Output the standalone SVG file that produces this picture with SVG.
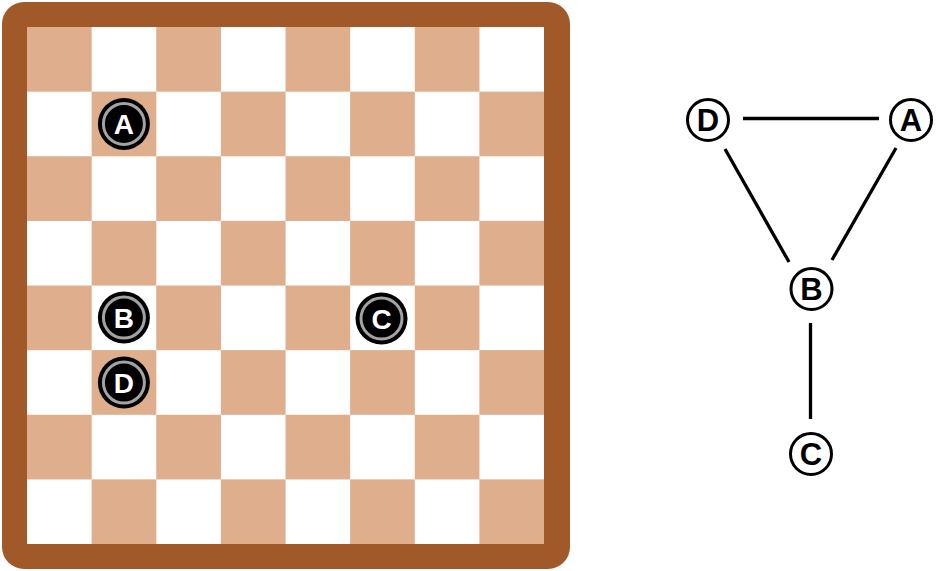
<svg xmlns="http://www.w3.org/2000/svg" width="950" height="571" viewBox="0 0 950 571">
<style>
.tan{fill:#DFAE8D}
.piece circle.o{fill:#000}
.piece circle.r{fill:none;stroke:#a3a3a3;stroke-width:3}
.piece text{font-family:"Liberation Sans",Arial,sans-serif;font-weight:bold;font-size:28px;fill:#fff;text-anchor:middle}
.gnode circle{fill:#fff;stroke:#000;stroke-width:3}
.gnode text{font-family:"Liberation Sans",Arial,sans-serif;font-weight:bold;font-size:31px;fill:#000;text-anchor:middle}
.edge{stroke:#000;stroke-width:3.3;stroke-linecap:butt}
</style>
<rect width="950" height="571" fill="#fff"/>
<g id="board">
<rect x="2" y="2" width="568" height="567" rx="22" ry="22" fill="#A1592A"/>
<rect x="27" y="27" width="517" height="517" fill="#fff"/>
<g class="tan">
<rect x="27" y="27" width="64.7" height="64.7"/>
<rect x="156.25" y="27" width="64.7" height="64.7"/>
<rect x="285.5" y="27" width="64.7" height="64.7"/>
<rect x="414.75" y="27" width="64.7" height="64.7"/>
<rect x="91.625" y="91.625" width="64.7" height="64.7"/>
<rect x="220.875" y="91.625" width="64.7" height="64.7"/>
<rect x="350.125" y="91.625" width="64.7" height="64.7"/>
<rect x="479.375" y="91.625" width="64.625" height="64.7"/>
<rect x="27" y="156.25" width="64.7" height="64.7"/>
<rect x="156.25" y="156.25" width="64.7" height="64.7"/>
<rect x="285.5" y="156.25" width="64.7" height="64.7"/>
<rect x="414.75" y="156.25" width="64.7" height="64.7"/>
<rect x="91.625" y="220.875" width="64.7" height="64.7"/>
<rect x="220.875" y="220.875" width="64.7" height="64.7"/>
<rect x="350.125" y="220.875" width="64.7" height="64.7"/>
<rect x="479.375" y="220.875" width="64.625" height="64.7"/>
<rect x="27" y="285.5" width="64.7" height="64.7"/>
<rect x="156.25" y="285.5" width="64.7" height="64.7"/>
<rect x="285.5" y="285.5" width="64.7" height="64.7"/>
<rect x="414.75" y="285.5" width="64.7" height="64.7"/>
<rect x="91.625" y="350.125" width="64.7" height="64.7"/>
<rect x="220.875" y="350.125" width="64.7" height="64.7"/>
<rect x="350.125" y="350.125" width="64.7" height="64.7"/>
<rect x="479.375" y="350.125" width="64.625" height="64.7"/>
<rect x="27" y="414.75" width="64.7" height="64.7"/>
<rect x="156.25" y="414.75" width="64.7" height="64.7"/>
<rect x="285.5" y="414.75" width="64.7" height="64.7"/>
<rect x="414.75" y="414.75" width="64.7" height="64.7"/>
<rect x="91.625" y="479.375" width="64.7" height="64.625"/>
<rect x="220.875" y="479.375" width="64.7" height="64.625"/>
<rect x="350.125" y="479.375" width="64.7" height="64.625"/>
<rect x="479.375" y="479.375" width="64.625" height="64.625"/>
</g>
</g>
<g id="piece-A" class="piece">
<circle class="o" cx="123.9" cy="123.9" r="26"/>
<circle class="r" cx="123.9" cy="123.9" r="20.5"/>
<text x="123.9" y="133.9">A</text>
</g>
<g id="piece-B" class="piece">
<circle class="o" cx="123.9" cy="317.6" r="26"/>
<circle class="r" cx="123.9" cy="317.6" r="20.5"/>
<text x="123.9" y="327.6">B</text>
</g>
<g id="piece-D" class="piece">
<circle class="o" cx="123.9" cy="382.6" r="26"/>
<circle class="r" cx="123.9" cy="382.6" r="20.5"/>
<text x="123.9" y="392.6">D</text>
</g>
<g id="piece-C" class="piece">
<circle class="o" cx="381.5" cy="318.5" r="26"/>
<circle class="r" cx="381.5" cy="318.5" r="20.5"/>
<text x="381.5" y="328.5">C</text>
</g>
<g id="connectors">
<line class="edge" x1="743" y1="118.5" x2="879" y2="118.5"/>
<line class="edge" x1="725" y1="149" x2="789" y2="262"/>
<line class="edge" x1="896" y1="148" x2="832" y2="260"/>
<line class="edge" x1="810.5" y1="323" x2="810.5" y2="419"/>
</g>
<g id="node-D" class="gnode">
<circle cx="708" cy="120" r="20.5"/>
<text x="708" y="131">D</text>
</g>
<g id="node-A" class="gnode">
<circle cx="911" cy="120" r="20.5"/>
<text x="911" y="131">A</text>
</g>
<g id="node-B" class="gnode">
<circle cx="811.5" cy="289" r="20.5"/>
<text x="811.5" y="300">B</text>
</g>
<g id="node-C" class="gnode">
<circle cx="811" cy="454" r="20.5"/>
<text x="811" y="465">C</text>
</g>
</svg>
